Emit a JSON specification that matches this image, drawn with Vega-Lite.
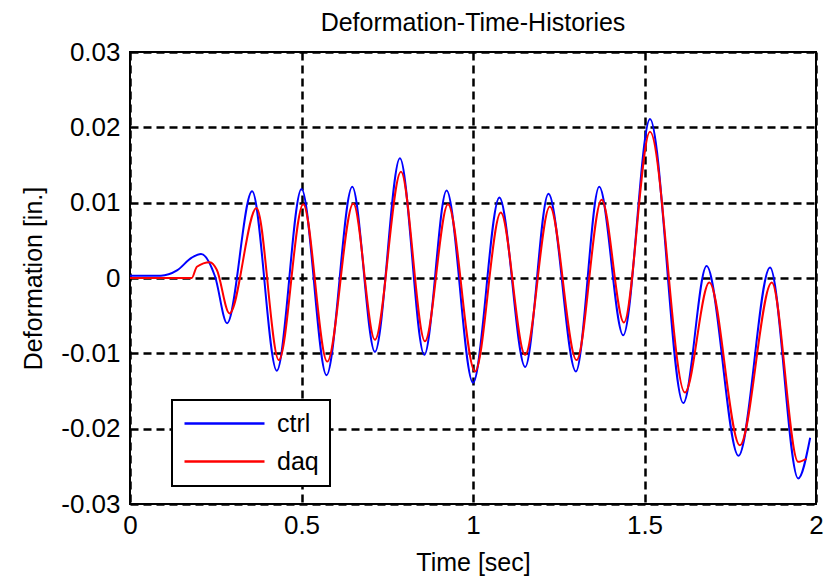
{
  "$schema": "https://vega.github.io/schema/vega-lite/v6.json",
  "width": 686,
  "height": 452,
  "autosize": {"type": "none"},
  "padding": {"left": 130, "top": 52, "right": 9, "bottom": 74},
  "background": "white",
  "title": {
    "text": "Deformation-Time-Histories",
    "font": "Liberation Sans",
    "fontSize": 25,
    "fontWeight": "normal",
    "color": "black",
    "anchor": "middle",
    "frame": "group",
    "offset": 3
  },
  "config": {
    "view": {"stroke": "black", "strokeWidth": 2},
    "axis": {
      "domain": false,
      "ticks": false,
      "grid": true,
      "gridColor": "black",
      "gridDash": [8, 5],
      "gridWidth": 2.5,
      "gridOpacity": 1,
      "labelFont": "Liberation Sans",
      "labelFontSize": 26,
      "labelColor": "black",
      "titleFont": "Liberation Sans",
      "titleFontSize": 25,
      "titleFontWeight": "normal",
      "titleColor": "black"
    }
  },
  "data": {
    "values": [
      {"t": 0, "v": 0.0003, "s": "ctrl"},
      {"t": 0.09, "v": 0.0003, "s": "ctrl"},
      {"t": 0.137, "v": 0.001, "s": "ctrl"},
      {"t": 0.18, "v": 0.0027, "s": "ctrl"},
      {"t": 0.207, "v": 0.0032, "s": "ctrl"},
      {"t": 0.248, "v": 0.0002, "s": "ctrl"},
      {"t": 0.283, "v": -0.006, "s": "ctrl"},
      {"t": 0.356, "v": 0.0115, "s": "ctrl"},
      {"t": 0.428, "v": -0.0123, "s": "ctrl"},
      {"t": 0.5, "v": 0.0118, "s": "ctrl"},
      {"t": 0.573, "v": -0.0129, "s": "ctrl"},
      {"t": 0.648, "v": 0.0121, "s": "ctrl"},
      {"t": 0.714, "v": -0.0098, "s": "ctrl"},
      {"t": 0.787, "v": 0.0159, "s": "ctrl"},
      {"t": 0.858, "v": -0.0102, "s": "ctrl"},
      {"t": 0.923, "v": 0.0116, "s": "ctrl"},
      {"t": 1.0, "v": -0.0139, "s": "ctrl"},
      {"t": 1.077, "v": 0.0107, "s": "ctrl"},
      {"t": 1.152, "v": -0.0118, "s": "ctrl"},
      {"t": 1.22, "v": 0.0112, "s": "ctrl"},
      {"t": 1.3, "v": -0.0124, "s": "ctrl"},
      {"t": 1.368, "v": 0.0121, "s": "ctrl"},
      {"t": 1.438, "v": -0.0076, "s": "ctrl"},
      {"t": 1.516, "v": 0.0211, "s": "ctrl"},
      {"t": 1.613, "v": -0.0166, "s": "ctrl"},
      {"t": 1.681, "v": 0.0016, "s": "ctrl"},
      {"t": 1.774, "v": -0.0236, "s": "ctrl"},
      {"t": 1.866, "v": 0.0014, "s": "ctrl"},
      {"t": 1.948, "v": -0.0266, "s": "ctrl"},
      {"t": 1.983, "v": -0.0212, "s": "ctrl"},
      {"t": 0, "v": 0, "s": "daq"},
      {"t": 0.18, "v": 0, "s": "daq"},
      {"t": 0.195, "v": 0.0015, "s": "daq"},
      {"t": 0.233, "v": 0.0021, "s": "daq"},
      {"t": 0.253, "v": 0.0011, "s": "daq"},
      {"t": 0.29, "v": -0.0047, "s": "daq"},
      {"t": 0.369, "v": 0.0093, "s": "daq"},
      {"t": 0.434, "v": -0.0109, "s": "daq"},
      {"t": 0.505, "v": 0.0098, "s": "daq"},
      {"t": 0.575, "v": -0.0111, "s": "daq"},
      {"t": 0.651, "v": 0.0099, "s": "daq"},
      {"t": 0.714, "v": -0.0082, "s": "daq"},
      {"t": 0.79, "v": 0.0141, "s": "daq"},
      {"t": 0.86, "v": -0.0084, "s": "daq"},
      {"t": 0.927, "v": 0.0098, "s": "daq"},
      {"t": 1.006, "v": -0.0124, "s": "daq"},
      {"t": 1.081, "v": 0.0087, "s": "daq"},
      {"t": 1.152, "v": -0.0102, "s": "daq"},
      {"t": 1.224, "v": 0.0095, "s": "daq"},
      {"t": 1.302, "v": -0.0109, "s": "daq"},
      {"t": 1.375, "v": 0.0104, "s": "daq"},
      {"t": 1.44, "v": -0.0059, "s": "daq"},
      {"t": 1.516, "v": 0.0194, "s": "daq"},
      {"t": 1.618, "v": -0.0152, "s": "daq"},
      {"t": 1.689, "v": -0.0006, "s": "daq"},
      {"t": 1.778, "v": -0.0222, "s": "daq"},
      {"t": 1.871, "v": -0.0006, "s": "daq"},
      {"t": 1.948, "v": -0.0244, "s": "daq"},
      {"t": 1.972, "v": -0.024, "s": "daq"}
    ]
  },
  "mark": {"type": "line", "interpolate": "monotone", "strokeWidth": 2},
  "encoding": {
    "x": {
      "field": "t",
      "type": "quantitative",
      "scale": {"domain": [0, 2], "nice": false, "zero": false},
      "axis": {
        "values": [0, 0.5, 1, 1.5, 2],
        "labelExpr": "toString(datum.value)",
        "labelFlush": false,
        "labelPadding": 8,
        "title": "Time [sec]",
        "titlePadding": 12
      }
    },
    "y": {
      "field": "v",
      "type": "quantitative",
      "scale": {"domain": [-0.03, 0.03], "nice": false, "zero": false},
      "axis": {
        "values": [-0.03, -0.02, -0.01, 0, 0.01, 0.02, 0.03],
        "labelExpr": "toString(datum.value)",
        "labelFlush": false,
        "labelPadding": 10,
        "title": "Deformation [in.]",
        "titlePadding": 14
      }
    },
    "color": {
      "field": "s",
      "type": "nominal",
      "scale": {"domain": ["ctrl", "daq"], "range": ["#0000ff", "#ff0000"]},
      "legend": {
        "title": null,
        "orient": "none",
        "legendX": 42,
        "legendY": 348,
        "fillColor": "white",
        "strokeColor": "black",
        "cornerRadius": 0,
        "padding": 11,
        "symbolType": "stroke",
        "symbolSize": 6400,
        "symbolStrokeWidth": 2.5,
        "clipHeight": 25,
        "rowPadding": 12,
        "labelOffset": 11,
        "labelFont": "Liberation Sans",
        "labelFontSize": 25,
        "labelColor": "black",
        "encode": {"legend": {"update": {"strokeWidth": {"value": 2}}}}
      }
    }
  }
}
